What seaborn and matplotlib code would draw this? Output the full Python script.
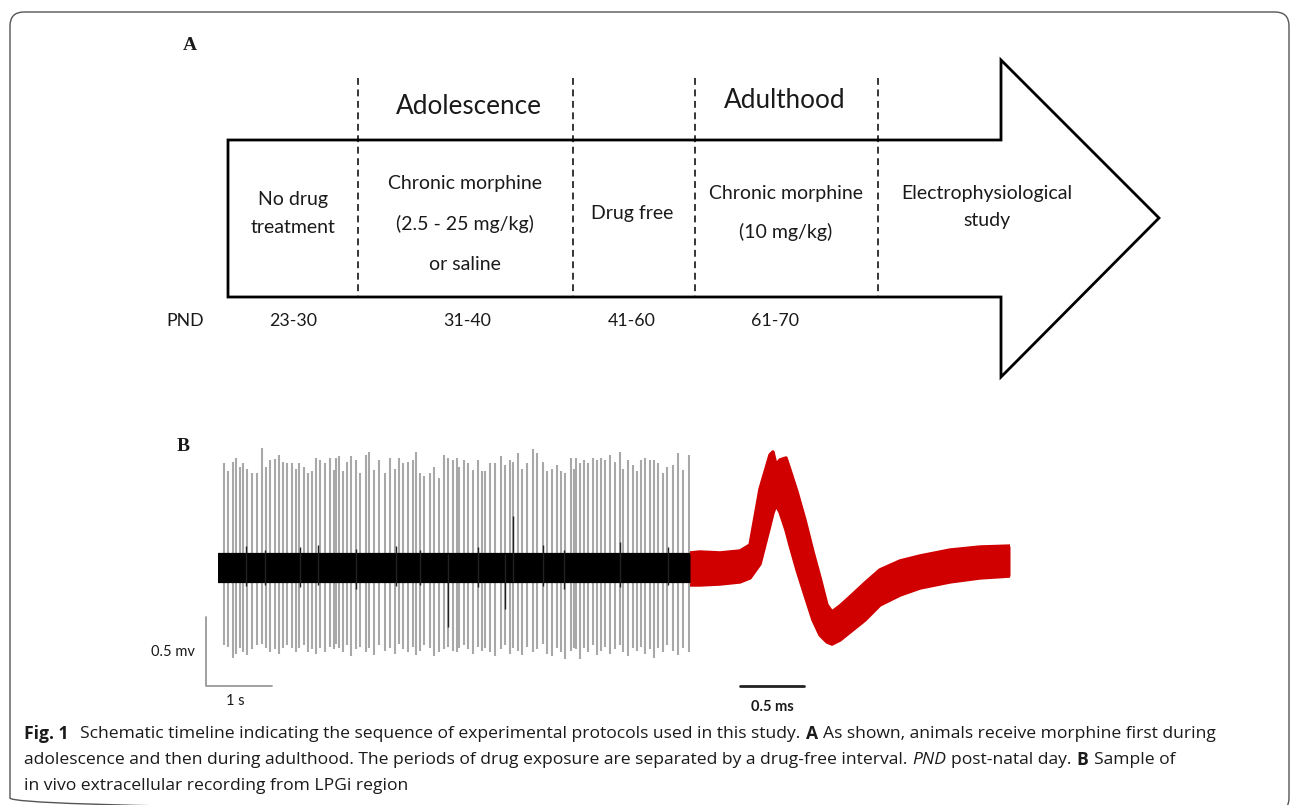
import numpy as np
import seaborn as sns
import matplotlib.pyplot as plt
from matplotlib.patches import Polygon, FancyBboxPatch

# ---------------- data ----------------
# panel A: timeline
stage_lines = [["No drug", "treatment"],
               ["Chronic morphine", "(2.5 - 25 mg/kg)", "or saline"],
               ["Drug free"],
               ["Chronic morphine", "(10 mg/kg)"],
               ["Electrophysiological", "study"]]
period_labels = ["", "Adolescence", "", "Adulthood", ""]
pnd_ranges = ["23-30", "31-40", "41-60", "61-70", ""]

# panel B: spike train (s, mV)
spike_t = [0.091, 0.156, 0.223, 0.273, 0.333, 0.383, 0.444, 0.511, 0.586, 0.662, 0.727, 0.788, 0.864, 0.924,
           0.980, 1.050, 1.117, 1.182, 1.232, 1.308, 1.368, 1.420, 1.485, 1.545, 1.621, 1.697, 1.758,
           1.788, 1.838, 1.889, 1.950, 2.011, 2.091, 2.152, 2.242, 2.292, 2.368, 2.444, 2.530, 2.606, 2.682,
           2.747, 2.808, 2.874, 2.950, 3.000, 3.061, 3.126, 3.212, 3.273, 3.353, 3.429, 3.489, 3.556,
           3.617, 3.656, 3.727, 3.792, 3.859, 3.944, 3.995, 4.045, 4.121, 4.197, 4.283, 4.348, 4.424, 4.474,
           4.550, 4.602, 4.677, 4.768, 4.838, 4.920, 4.989, 5.056, 5.132, 5.197, 5.258, 5.344, 5.394,
           5.424, 5.485, 5.545, 5.611, 5.686, 5.738, 5.798, 5.864, 5.939, 6.015, 6.091, 6.141, 6.217,
           6.283, 6.348, 6.409, 6.470, 6.545, 6.606, 6.671, 6.747, 6.808, 6.889, 6.965, 7.050, 7.136]
spike_hi = [0.76, 0.70, 0.77, 0.80, 0.73, 0.76, 0.72, 0.69, 0.69, 0.87, 0.73, 0.78, 0.79, 0.82, 0.77, 0.76,
            0.76, 0.72, 0.76, 0.73, 0.69, 0.70, 0.80, 0.78, 0.76, 0.80, 0.71,
            0.80, 0.81, 0.70, 0.77, 0.81, 0.78, 0.69, 0.82, 0.84, 0.71, 0.78, 0.69, 0.80, 0.72, 0.80, 0.76,
            0.77, 0.78, 0.84, 0.69, 0.67, 0.69, 0.73, 0.65, 0.82, 0.80, 0.78,
            0.80, 0.73, 0.78, 0.76, 0.71, 0.78, 0.70, 0.70, 0.76, 0.76, 0.81, 0.75, 0.78, 0.77, 0.83, 0.72,
            0.76, 0.86, 0.83, 0.77, 0.70, 0.72, 0.75, 0.70, 0.69, 0.80, 0.72,
            0.80, 0.76, 0.78, 0.76, 0.80, 0.78, 0.80, 0.78, 0.82, 0.77, 0.84, 0.72, 0.78, 0.75, 0.70, 0.78,
            0.80, 0.78, 0.78, 0.76, 0.69, 0.73, 0.75, 0.83, 0.71, 0.82]
spike_lo = [-0.56, -0.57, -0.65, -0.62, -0.58, -0.61, -0.63, -0.59, -0.56, -0.55, -0.58, -0.61, -0.59, -0.62,
            -0.58, -0.56, -0.58, -0.61, -0.58, -0.56, -0.61, -0.59, -0.62, -0.58, -0.61, -0.57, -0.59,
            -0.55, -0.58, -0.61, -0.56, -0.64, -0.59, -0.57, -0.61, -0.58, -0.63, -0.56, -0.60, -0.58, -0.62,
            -0.55, -0.59, -0.61, -0.57, -0.63, -0.60, -0.56, -0.58, -0.64, -0.61, -0.59, -0.57, -0.60,
            -0.61, -0.58, -0.56, -0.59, -0.62, -0.57, -0.60, -0.58, -0.61, -0.64, -0.59, -0.56, -0.62, -0.58,
            -0.60, -0.63, -0.57, -0.61, -0.59, -0.55, -0.62, -0.64, -0.58, -0.61, -0.66, -0.60, -0.58,
            -0.59, -0.66, -0.58, -0.61, -0.56, -0.63, -0.60, -0.57, -0.62, -0.59, -0.56, -0.61, -0.64, -0.58,
            -0.60, -0.57, -0.62, -0.59, -0.65, -0.58, -0.61, -0.56, -0.60, -0.63, -0.58, -0.61]
noise_t = [0.42, 0.71, 1.24, 1.52, 2.09, 2.70, 3.06, 3.48, 3.94, 4.35, 4.47, 4.93, 5.24, 6.09, 6.82]
noise_hi = [0.16, 0.13, 0.15, 0.17, 0.14, 0.16, 0.13, 0.10, 0.15, 0.10, 0.38, 0.17, 0.13, 0.19, 0.15]
noise_lo = [-0.13, -0.12, -0.14, -0.12, -0.15, -0.13, -0.12, -0.43, -0.14, -0.30, -0.10, -0.13, -0.15, -0.14, -0.12]
trace_len = 7.15

# panel B: averaged unit waveform (ms, mV)
wave_t = [0, 0.078, 0.234, 0.391, 0.469, 0.547, 0.625, 0.648, 0.672, 0.703, 0.750, 0.781, 0.836, 0.898,
          0.961, 1.016, 1.070, 1.109, 1.172, 1.250, 1.367, 1.484, 1.641, 1.797, 2.031, 2.266, 2.5]
wave_hi = [0.109, 0.116, 0.109, 0.123, 0.167, 0.572, 0.819, 0.841, 0.746, 0.783, 0.797, 0.710, 0.551, 0.348,
           0.116, -0.072, -0.268, -0.319, -0.275, -0.210, -0.109, -0.014, 0.051, 0.087, 0.130, 0.152, 0.159]
wave_lo = [-0.123, -0.123, -0.116, -0.101, -0.072, 0.029, 0.312, 0.399, 0.457, 0.406, 0.275, 0.167, -0.014,
           -0.196, -0.377, -0.486, -0.536, -0.551, -0.522, -0.464, -0.377, -0.268, -0.196, -0.145, -0.101,
           -0.072, -0.058]

caption = [
    [("Fig. 1", "bold", "normal"), ("Schematic timeline indicating the sequence of experimental protocols used in this study.", "normal", "normal"),
     ("A", "bold", "normal"), ("As shown, animals receive morphine first during", "normal", "normal")],
    [("adolescence and then during adulthood. The periods of drug exposure are separated by a drug-free interval.", "normal", "normal"),
     ("PND", "normal", "italic"), ("post-natal day.", "normal", "normal"), ("B", "bold", "normal"), ("Sample of", "normal", "normal")],
    [("in vivo extracellular recording from LPGi region", "normal", "normal")],
]

# ---------------- layout ----------------
W, H = 1293, 805
sns.set_theme(style="white")
plt.rcParams['font.family'] = ['Lato', 'DejaVu Sans']
TXT = '#1a1a1a'

fig = plt.figure(figsize=(W / 100, H / 100), dpi=100)
ax = fig.add_axes([0, 0, 1, 1])
ax.set_xlim(0, W)
ax.set_ylim(H, 0)
ax.axis('off')

# outer frame
ax.add_patch(FancyBboxPatch((10, 12), 1279, 800, boxstyle="round,pad=0,rounding_size=14",
                            fc='none', ec='#555555', lw=1.0, clip_on=False))

# arrow
arrow_xy = [(228, 140), (1001, 140), (1001, 60), (1159, 218), (1001, 377), (1001, 297), (228, 297)]
ax.add_patch(Polygon(arrow_xy, closed=True, fc='white', ec='black', lw=2.0, joinstyle='miter'))

dash_x = [358, 573, 695, 878]
for x in dash_x:
    ax.plot([x, x], [78, 296], color='black', lw=1.1, ls=(0, (4.5, 3)))

stage_x = [293, 465, 632, 786, 987]
stage_y0 = [199, 184, 213, 193, 193]
stage_dy = [28, 40, 0, 39, 27]
for lines, x, y0, dy in zip(stage_lines, stage_x, stage_y0, stage_dy):
    for i, s in enumerate(lines):
        ax.text(x, y0 + i * dy, s, ha='center', va='center', fontsize=14, color=TXT)

period_x = [0, 469, 0, 785, 0]
period_y = [0, 106, 0, 100, 0]
for s, x, y in zip(period_labels, period_x, period_y):
    if s:
        ax.text(x, y, s, ha='center', va='center', fontsize=18.8, color=TXT)

pnd_x = [293, 467, 632, 775, 0]
ax.text(185, 321, "PND", ha='center', va='center', fontsize=12.8, color=TXT)
for s, x in zip(pnd_ranges, pnd_x):
    if s:
        ax.text(x, 321, s, ha='center', va='center', fontsize=12.8, color=TXT)

ax.text(190, 46, "A", ha='center', va='center', fontsize=14, fontweight='bold',
        family='Liberation Serif', color=TXT)
ax.text(183, 446, "B", ha='center', va='center', fontsize=14, fontweight='bold',
        family='Liberation Serif', color=TXT)

# spike train axes: 66 px per s, 138 px per mV, baseline at y=568
px_s, px_mv, base = 66, 138, 568
ylim = (-(700 - base) / px_mv, (base - 440) / px_mv)
bottom, height = (H - 700) / H, 260 / H
axs = fig.add_axes([218 / W, bottom, 472 / W, height])
axs.set_xlim(0, 472 / px_s)
axs.set_ylim(*ylim)
axs.axis('off')
axs.vlines(spike_t, spike_lo, spike_hi, color='#a8a8a8', lw=1.5, zorder=1)
axs.fill_between([0, trace_len], -0.1, 0.1, color='black', lw=1.6, ec='black', zorder=2)
axs.vlines(noise_t, noise_lo, noise_hi, color='#222222', lw=1.0, zorder=3)

# scale bars
sx = -12 / px_s
sb_y = -(686 - base) / px_mv
axs.plot([sx, sx, sx + 1], [sb_y + 0.5, sb_y, sb_y], color='#999999', lw=1.3, clip_on=False)
axs.text(sx - 33 / px_s, -(652 - base) / px_mv, "0.5 mv", ha='center', va='center',
         fontsize=10.5, color=TXT, clip_on=False)
axs.text(sx + 29 / px_s, -(701 - base) / px_mv, "1 s", ha='center', va='center',
         fontsize=10.5, color=TXT, clip_on=False)

# waveform axes: 128 px per ms
px_ms = 128
axw = fig.add_axes([690 / W, bottom, 320 / W, height])
axw.set_xlim(0, 320 / px_ms)
axw.set_ylim(*ylim)
axw.axis('off')
red = '#d10000'
axw.fill_between(wave_t, wave_lo, wave_hi, color=red, lw=0)
sns.lineplot(x=wave_t, y=wave_hi, ax=axw, color=red, lw=2.5)
sns.lineplot(x=wave_t, y=wave_lo, ax=axw, color=red, lw=2.5)
t0 = 50 / px_ms
axw.plot([t0, t0 + 0.5], [sb_y, sb_y], color='#222222', lw=2.0, clip_on=False)
axw.text(t0 + 0.25, -(707 - base) / px_mv, "0.5 ms", ha='center', va='center',
         fontsize=10.5, fontweight='bold', color=TXT, clip_on=False)

# caption
cap_font = ['Open Sans', 'DejaVu Sans']
cap_size = 12.6
cap_y = [734, 760, 786]
gap = 5
renderer = fig.canvas.get_renderer()
for runs, y in zip(caption, cap_y):
    x = 24
    for k, (s, w, st) in enumerate(runs):
        t = ax.text(x, y, s, ha='left', va='center', fontsize=cap_size, fontweight=w,
                    fontstyle=st, family=cap_font, color=TXT)
        x += t.get_window_extent(renderer=renderer).width + (12 if s == "Fig. 1" else gap)

fig.savefig('out.png', dpi=100)
